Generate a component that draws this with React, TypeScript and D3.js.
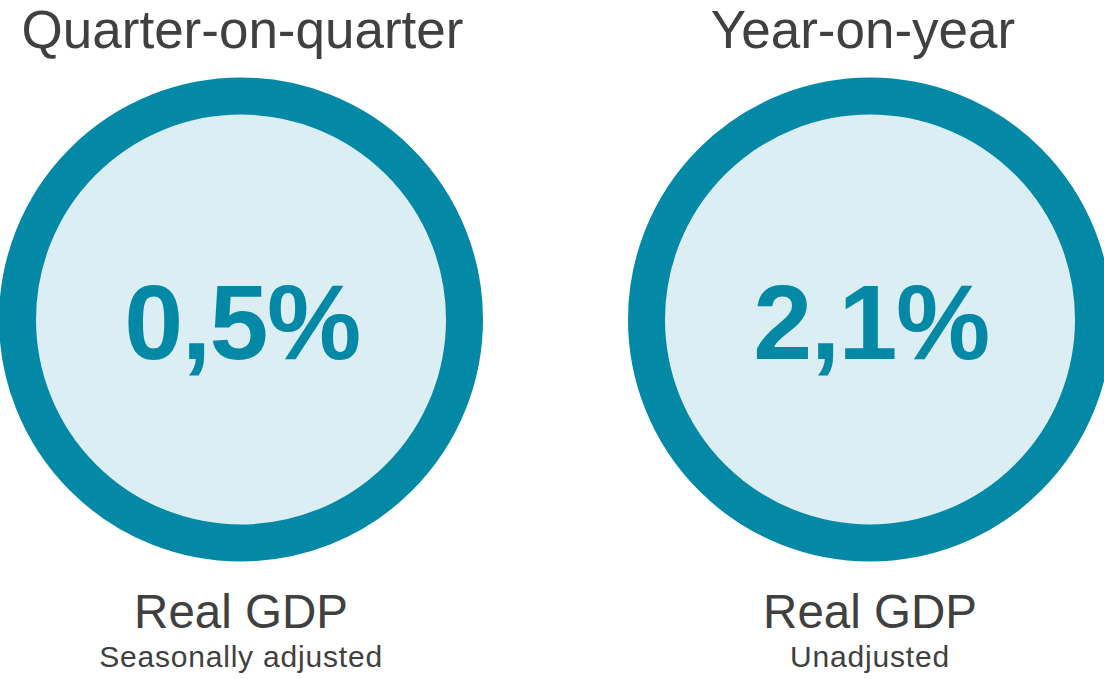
import React, { useEffect, useRef } from "react";
import * as d3 from "d3";

const panels = ["qoq", "yoy"];
const titles = ["Quarter-on-quarter", "Year-on-year"];
const values = [0.005, 0.021];
const labels = ["Real GDP", "Real GDP"];
const sublabels = ["Seasonally adjusted", "Unadjusted"];

const W = 1104;
const H = 679;
const RING = "#0389A6";
const FILL = "#DAEEF3";
const TEXT = "#404040";
const FONT = "'Liberation Sans', Arial, sans-serif";

export default function App() {
  const ref = useRef<SVGSVGElement>(null);

  useEffect(() => {
    const svg = d3.select(ref.current);
    svg.selectAll("*").remove();

    const x = d3.scalePoint<string>().domain(panels).range([241, 870]).padding(0);
    const cy = 319.5;
    const outerR = 242;
    const ringW = 37;
    const fmt = d3.formatLocale({ decimal: ",", thousands: ".", grouping: [3], currency: ["", "€"] }).format(".1%");

    const g = svg
      .selectAll("g.panel")
      .data(panels)
      .join("g")
      .attr("class", "panel")
      .attr("transform", (d) => `translate(${x(d)},0)`);

    g.append("circle")
      .attr("cx", 0)
      .attr("cy", cy)
      .attr("r", outerR - ringW / 2)
      .attr("fill", FILL)
      .attr("stroke", RING)
      .attr("stroke-width", ringW);

    g.append("text")
      .attr("x", (d, i) => (i === 1 ? -7 : 1.5))
      .attr("y", 48)
      .attr("text-anchor", "middle")
      .attr("font-family", FONT)
      .attr("font-size", 53)
      .attr("fill", TEXT)
      .text((d, i) => titles[i]);

    g.append("text")
      .attr("x", 1)
      .attr("y", 359)
      .attr("text-anchor", "middle")
      .attr("font-family", FONT)
      .attr("font-weight", "bold")
      .attr("font-size", 106)
      .attr("letter-spacing", -1.5)
      .attr("fill", RING)
      .text((d, i) => fmt(values[i]));

    g.append("text")
      .attr("x", 0)
      .attr("y", 628)
      .attr("text-anchor", "middle")
      .attr("font-family", FONT)
      .attr("font-size", 47.5)
      .attr("fill", TEXT)
      .text((d, i) => labels[i]);

    g.append("text")
      .attr("x", 0)
      .attr("y", 667)
      .attr("text-anchor", "middle")
      .attr("font-family", FONT)
      .attr("font-size", 30)
      .attr("letter-spacing", 0.8)
      .attr("fill", TEXT)
      .text((d, i) => sublabels[i]);
  }, []);

  return (
    <div style={{ position: "absolute", left: 0, top: 0, width: W, height: H, overflow: "hidden", background: "#fff" }}>
      <svg ref={ref} width={W} height={H} style={{ display: "block" }} />
    </div>
  );
}
